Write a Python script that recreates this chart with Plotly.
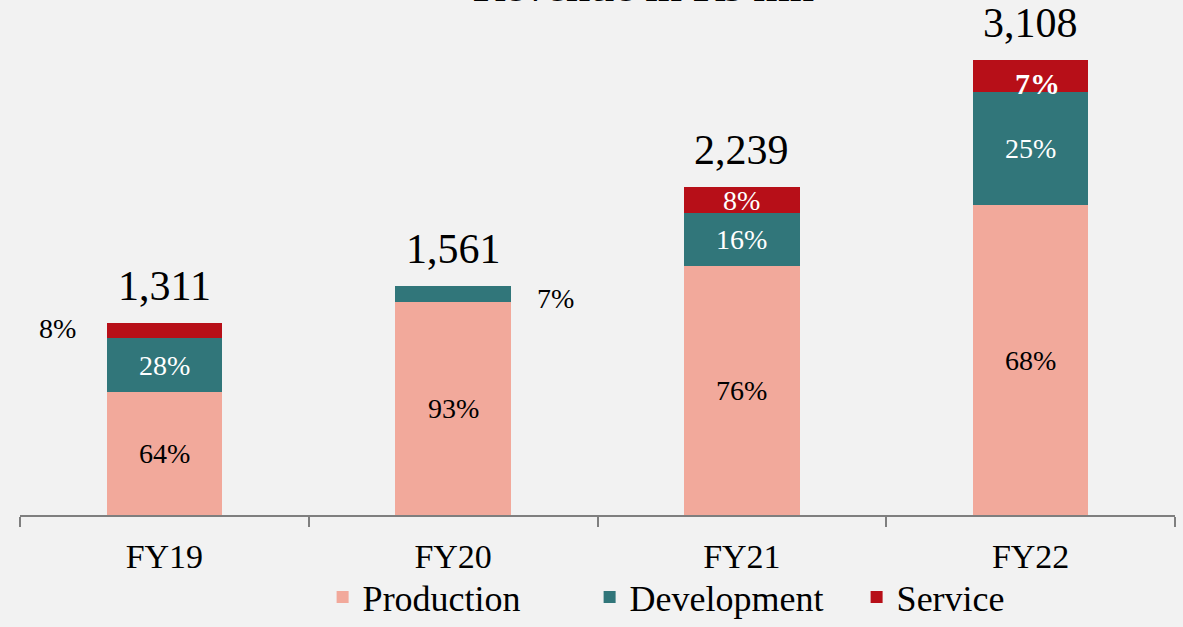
import plotly.graph_objects as go

categories = ["FY19", "FY20", "FY21", "FY22"]
totals = [1311, 1561, 2239, 3108]
production_pct = [64, 93, 76, 68]
development_pct = [28, 7, 16, 25]
service_pct = [8, 0, 8, 7]
total_labels = ["1,311", "1,561", "2,239", "3,108"]

series = [
    ("Production", production_pct, "#F2A99B", "black"),
    ("Development", development_pct, "#31767A", "white"),
    ("Service", service_pct, "#B70F18", "white"),
]

FONT = "Liberation Serif"
fig = go.Figure()
base = [0.0] * len(categories)
annotations = []
for name, pcts, color, tcolor in series:
    vals = [t * p / 100 for t, p in zip(totals, pcts)]
    fig.add_trace(go.Bar(
        name=name, x=categories, y=vals,
        marker=dict(color=color, line=dict(width=0)),
        width=0.4,
    ))
    for i, (c, v, p) in enumerate(zip(categories, vals, pcts)):
        if p == 0:
            continue
        mid = base[i] + v / 2
        color_i, xs, ys, bold = tcolor, 0, 0, False
        if name == "Service" and c == "FY19":
            color_i, xs, ys = "black", -107, 2
        elif name == "Development" and c == "FY20":
            color_i, xs, ys = "black", 102, -4
        elif name == "Service" and c == "FY22":
            xs, ys, bold = 7, -8, True
        txt = f"<b>{p}%</b>" if bold else f"{p}%"
        annotations.append(dict(
            x=c, y=mid, xref="x", yref="y", text=txt, showarrow=False,
            xshift=xs, yshift=ys,
            font=dict(family=FONT, size=28 if not bold else 30, color=color_i),
        ))
        base[i] += v

for c, t, lab in zip(categories, totals, total_labels):
    annotations.append(dict(
        x=c, y=t, xref="x", yref="y", text=lab, showarrow=False,
        yanchor="middle", yshift=37,
        font=dict(family=FONT, size=42, color="black"),
    ))

annotations.append(dict(
    x=0.54, y=1, xref="paper", yref="paper", text="<b>Revenue in Rs mn</b>",
    showarrow=False, yanchor="bottom", yshift=-13,
    font=dict(family=FONT, size=44, color="black"),
))

fig.update_layout(
    barmode="stack",
    width=1183, height=627,
    margin=dict(l=20, r=8, t=0, b=112, autoexpand=False),
    paper_bgcolor="#F2F2F2", plot_bgcolor="#F2F2F2",
    annotations=annotations,
    showlegend=True,
    legend=dict(
        orientation="h", x=0.262, xanchor="left",
        yref="container", y=-0.012, yanchor="bottom",
        traceorder="normal", entrywidth=222, entrywidthmode="pixels",
        font=dict(family=FONT, size=36, color="black"),
        bgcolor="rgba(0,0,0,0)", itemwidth=30, borderwidth=0,
    ),
    xaxis=dict(
        showline=True, linecolor="#7F7F7F", linewidth=2,
        ticks="outside", tickson="boundaries", ticklen=10, tickcolor="#7F7F7F",
        tickwidth=2, automargin=False,
        tickfont=dict(family=FONT, size=34, color="black"),
        ticklabelstandoff=10, showgrid=False,
    ),
    yaxis=dict(range=[0, 515 / 0.1465], visible=False, showgrid=False),
)

fig.write_html("out.html", config={"displayModeBar": False})
with open("out.html", "r", encoding="utf-8") as f:
    html = f.read()
html = html.replace("<head>", "<head><style>html,body{margin:0;padding:0;background:#F2F2F2;}</style>", 1)
with open("out.html", "w", encoding="utf-8") as f:
    f.write(html)
